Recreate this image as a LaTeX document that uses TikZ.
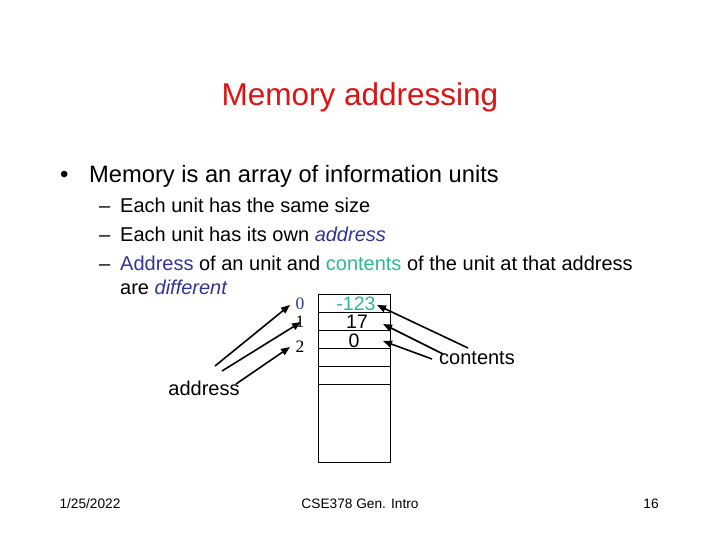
\documentclass[tikz,border=0pt]{standalone}
\usepackage{fontspec}
\setmainfont{Liberation Sans}
\newfontfamily\serifdig{Liberation Serif}
\usetikzlibrary{arrows.meta}
\definecolor{titlered}{RGB}{222,18,18}
\definecolor{addrblue}{RGB}{51,51,153}
\definecolor{contteal}{RGB}{45,185,150}
\tikzset{
  txt/.style={inner sep=0pt, anchor=base west},
  cell/.style={draw, line width=0.8pt, minimum width=72pt, minimum height=18pt, inner sep=0pt, anchor=north west},
  ptr/.style={line width=1.6pt, -{Triangle[length=9pt,width=7pt]}},
  lbl/.style={inner sep=0pt, font=\fontsize{17.5}{19}\selectfont\serifdig},
  val/.style={inner sep=0pt, font=\fontsize{19.5}{21}\selectfont},
  side/.style={inner sep=0pt, font=\fontsize{20}{22}\selectfont}
}
\begin{document}
\begin{tikzpicture}[x=1pt,y=-1pt]
\useasboundingbox[fill=white] (0,0) rectangle (720,540);
% title
\node[inner sep=0pt, anchor=base, text=titlered, font=\fontsize{31.5}{34}\selectfont] (title) at (360,106) {Memory addressing};
% bullets
\node[txt, font=\fontsize{24}{28}\selectfont] (b0) at (60,183) {\textbullet};
\node[txt, font=\fontsize{23.7}{28}\selectfont] (b1) at (89,183) {Memory is an array of information units};
\begin{scope}[every node/.style={txt, font=\fontsize{20}{24}\selectfont}]
\node (d1) at (99,213) {–};
\node (s1) at (120,213) {Each unit has the same size};
\node (d2) at (99,241) {–};
\node (s2) at (120,241) {Each unit has its own \textcolor{addrblue}{\itshape address}};
\node (d3) at (99,270) {–};
\node (s3) at (120,270) {\textcolor{addrblue}{Address} of an unit and \textcolor{contteal}{contents} of the unit at that address};
\node (s4) at (120,294) {are \textcolor{addrblue}{\itshape different}};
\end{scope}
% memory cells
\node[cell] (c0) at (318,294) {};
\node[cell] (c1) at (318,312) {};
\node[cell] (c2) at (318,330) {};
\node[cell] (c3) at (318,348) {};
\node[cell] (c4) at (318,366) {};
\node[cell, minimum height=78pt] (c5) at (318,384) {};
% address labels
\node[lbl, text=addrblue] (a0) at (300,304) {0};
\node[lbl] (a1) at (300,322) {1};
\node[lbl] (a2) at (300,347) {2};
% values
\node[val, text=contteal, anchor=base] (v0) at (356,310) {-123};
\node[val, anchor=base] (v1) at (357,328) {17};
\node[val, anchor=base] (v2) at (354,347) {0};
% side labels
\node[side] (addr) at (204,388) {address};
\node[side] (cont) at (477,358) {contents};
% arrow endpoints
\coordinate (as0) at (215,366);
\coordinate (as1) at (222,371);
\coordinate (as2) at (236,384);
\coordinate (ae0) at (290,305);
\coordinate (ae1) at (301,322);
\coordinate (ae2) at (290,347);
\coordinate (cs0) at (468,348);
\coordinate (cs1) at (443,354);
\coordinate (cs2) at (432,359);
\coordinate (ce0) at (377,305);
\coordinate (ce1) at (383,324);
\coordinate (ce2) at (383,341);
\draw[ptr] (as0) -- (ae0);
\draw[ptr] (as1) -- (ae1);
\draw[ptr] (as2) -- (ae2);
\draw[ptr] (cs0) -- (ce0);
\draw[ptr] (cs1) -- (ce1);
\draw[ptr] (cs2) -- (ce2);
% footer
\begin{scope}[every node/.style={inner sep=0pt, anchor=base, font=\fontsize{13.7}{15}\selectfont}]
\node (f1) at (90,508) {1/25/2022};
\node (f2) at (360,508) {CSE378 Gen. Intro};
\node (f3) at (651,508) {16};
\end{scope}
\end{tikzpicture}
\end{document}
